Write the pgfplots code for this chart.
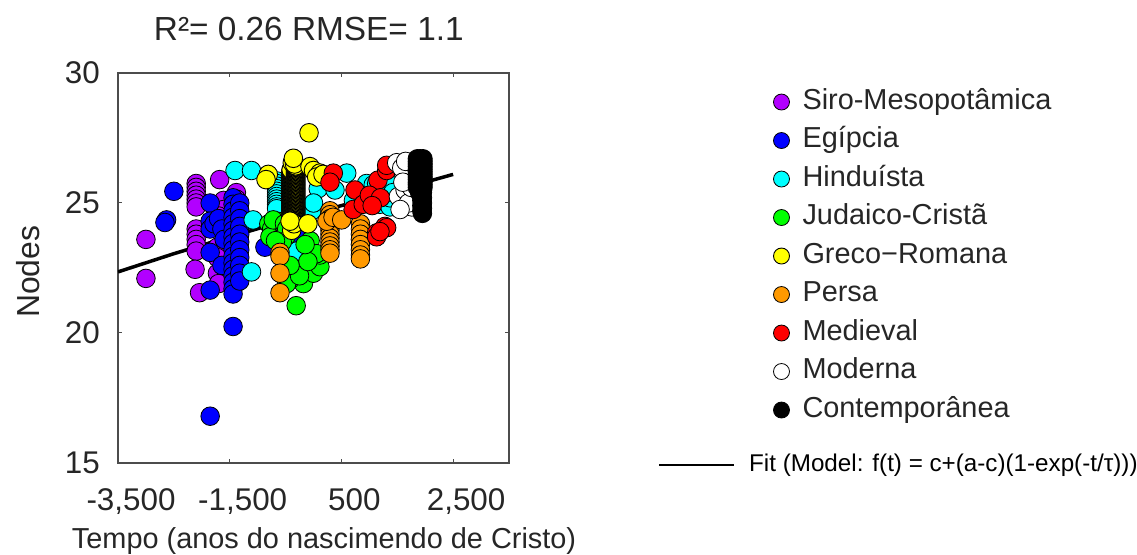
\documentclass[border=0pt]{standalone}
\usepackage{pgfplots}
\pgfplotsset{compat=1.18}
\usepackage{fontspec}
\setmainfont{Liberation Sans}
\definecolor{cpurple}{RGB}{178,0,255}
\definecolor{cblue}{RGB}{0,0,255}
\definecolor{ccyan}{RGB}{0,255,255}
\definecolor{cgreen}{RGB}{0,255,0}
\definecolor{cyellow}{RGB}{255,255,0}
\definecolor{corange}{RGB}{255,153,0}
\definecolor{cred}{RGB}{255,0,0}
\definecolor{txt}{RGB}{38,38,38}
\pgfplotsset{sc/.style={only marks, mark=*, mark size=9.3bp, mark options={draw=black, line width=0.8bp, fill=#1}}}
\begin{document}
\begin{tikzpicture}
\useasboundingbox (-118bp,-92bp) rectangle (1019bp,463bp);
\begin{axis}[
  at={(0,0)}, anchor=south west,
  scale only axis, width=391bp, height=390bp,
  xmin=-3500, xmax=3500, ymin=15, ymax=30,
  xtick={-3500,-1500,500,2500}, xticklabels={{-3,500},{-1,500},500,{2,500}},
  ytick={15,20,25,30}, yticklabels={15,20,25,30},
  tick align=inside, major tick length=4bp,
  axis line style={line width=1.2bp, black!70},
  tick style={line width=1bp, black!70},
  xticklabel style={anchor=base, yshift=-47bp, xshift=13bp, font=\fontsize{31.5}{31.5}\selectfont, text=txt, inner sep=0pt},
  yticklabel style={anchor=east, xshift=-18bp, font=\fontsize{31.5}{31.5}\selectfont, text=txt, inner sep=0pt},
  title={R²= 0.26 RMSE= 1.1},
  title style={at={(axis description cs:0.488,1.0987)}, anchor=center, font=\fontsize{33.5}{33.5}\selectfont, text=txt, inner sep=0pt},
  xlabel={Tempo (anos do nascimendo de Cristo)},
  xlabel style={at={(axis description cs:0.527,-0.1990)}, anchor=center, font=\fontsize{29}{29}\selectfont, text=txt, inner sep=0pt},
  ylabel={Nodes},
  ylabel style={at={(axis description cs:-0.230,0.49)}, anchor=center, font=\fontsize{32}{32}\selectfont, text=txt, inner sep=0pt},
  legend style={at={(axis description cs:1.6765,0.9640)}, anchor=north west, draw=none, fill=none, inner sep=0pt, outer sep=0pt,
    font=\fontsize{29}{29}\selectfont, text=txt, row sep=8.5bp, column sep=11bp,
    nodes={inner sep=2bp, text height=20bp, text depth=6bp}},
  legend cell align=left,
  legend image code/.code={\draw[#1, mark size=8bp] plot coordinates {(0bp,0bp)};},
]
\addplot[sc=cpurple] coordinates {
(-3000,23.6) (-3000,22.1)
(-2100,25.75) (-2100,25.6) (-2100,25.45) (-2100,25.3) (-2100,25.15) (-2100,25.0) (-2100,24.85)
(-2100,24.0) (-2100,23.8) (-2100,23.6) (-2100,23.4) (-2100,23.15) (-2120,22.45) (-2040,21.55)
(-1680,25.9) (-1610,25.1) (-1610,24.75) (-1700,24.5) (-1720,23.3) (-1720,22.9) (-1720,22.3) (-1700,21.9)
(-1380,25.4) (-1380,25.15)
};
\addlegendentry{Siro-Mesopotâmica}
\addplot[sc=cblue] coordinates {
(-2500,25.45) (-2630,24.35) (-2660,24.25)
(-1850,25.0) (-1850,24.3) (-1850,24.0) (-1850,23.1) (-1850,21.65) (-1850,16.8)
(-1780,24.2) (-1700,24.4) (-1640,24.0) (-1600,23.6) (-1640,22.6)
(-1440,25.2) (-1440,24.95) (-1440,24.7) (-1440,24.45) (-1440,24.2) (-1440,23.95) (-1440,23.7) (-1440,23.45)
(-1440,23.2) (-1440,22.95) (-1440,22.7) (-1440,22.45) (-1440,22.2) (-1440,21.95) (-1440,21.7) (-1440,21.5)
(-1440,20.25)
(-1320,25.0) (-1320,24.7) (-1320,24.4) (-1320,24.1) (-1320,23.8) (-1320,23.5) (-1320,23.2) (-1320,22.9)
(-1320,22.6) (-1320,22.3) (-1320,22.0)
(-870,23.3) (-330,22.45) (-150,23.05) (-210,23.75)
};
\addlegendentry{Egípcia}
\addplot[sc=ccyan] coordinates {
(-1405,26.25) (-1110,26.25) (-1080,24.35) (-1110,22.35)
(-660,25.85) (-660,25.75) (-660,25.65) (-660,25.55) (-660,25.45) (-660,25.35) (-660,25.25) (-660,25.15)
(-660,25.05) (-660,24.95) (-660,24.85) (-660,24.78)
(-300,23.15)
(-30,24.7) (85,25.55) (0,25.0) (385,25.5) (595,26.15) (715,25.1) (890,25.1) (950,25.75)
(1070,25.7) (1130,25.75) (1250,25.7) (1420,25.7) (1250,25.15) (1190,24.95) (1370,24.85) (1370,25.2) (1420,25.4)
};
\addlegendentry{Hinduísta}
\addplot[sc=cgreen] coordinates {
(-800,24.2) (-750,24.0) (-700,23.8) (-650,24.3) (-600,24.1) (-550,23.9) (-500,23.7) (-780,23.7)
(-720,24.35) (-620,23.6) (-520,24.2) (-480,24.0) (-560,23.5) (-680,23.55)
(-310,21.05) (-180,21.9) (0,22.3) (115,22.55) (115,23.0) (-420,22.05) (-60,23.55) (55,23.05)
(-480,21.9) (-250,22.2) (-100,22.75) (-420,22.6) (-150,23.4)
};
\addlegendentry{Judaico-Cristã}
\addplot[only marks, mark=*, mark size=9.3bp, mark options={draw=black, line width=0.9bp, fill=cyellow}] coordinates {
(-400,24.30) (-400,24.33) (-400,24.36) (-400,24.39) (-400,24.42) (-400,24.45) (-400,24.48) (-400,24.51)
(-400,24.54) (-400,24.57) (-400,24.60) (-400,24.63) (-400,24.66) (-400,24.69) (-400,24.72) (-400,24.75)
(-400,24.78) (-400,24.81) (-400,24.84) (-400,24.87) (-400,24.90) (-400,24.93) (-400,24.96) (-400,24.99)
(-400,25.02) (-400,25.05) (-400,25.08) (-400,25.11) (-400,25.14) (-400,25.17) (-400,25.20) (-400,25.23)
(-400,25.26) (-400,25.29) (-400,25.32) (-400,25.35) (-400,25.38) (-400,25.41) (-400,25.44) (-400,25.47)
(-400,25.50) (-400,25.53) (-400,25.56) (-400,25.59) (-400,25.62) (-400,25.65) (-400,25.68) (-400,25.71)
(-400,25.74) (-400,25.77) (-400,25.80) (-400,25.83) (-400,25.86) (-400,25.89) (-400,25.92) (-400,25.95)
(-400,25.98) (-400,26.01) (-400,26.04) (-400,26.07) (-400,26.10) (-400,26.13) (-400,26.16) (-400,26.19)
(-400,26.22) (-400,26.25) (-400,26.28)
(-320,24.45) (-320,24.48) (-320,24.51) (-320,24.54) (-320,24.57) (-320,24.60) (-320,24.63) (-320,24.66)
(-320,24.69) (-320,24.72) (-320,24.75) (-320,24.78) (-320,24.81) (-320,24.84) (-320,24.87) (-320,24.90)
(-320,24.93) (-320,24.96) (-320,24.99) (-320,25.02) (-320,25.05) (-320,25.08) (-320,25.11) (-320,25.14)
(-320,25.17) (-320,25.20) (-320,25.23) (-320,25.26) (-320,25.29) (-320,25.32) (-320,25.35) (-320,25.38)
(-320,25.41) (-320,25.44) (-320,25.47) (-320,25.50) (-320,25.53) (-320,25.56) (-320,25.59) (-320,25.62)
(-320,25.65) (-320,25.68) (-320,25.71) (-320,25.74) (-320,25.77) (-320,25.80) (-320,25.83) (-320,25.86)
(-320,25.89) (-320,25.92) (-320,25.95) (-320,25.98) (-320,26.01) (-320,26.04) (-320,26.07) (-320,26.10)
(-320,26.13) (-320,26.16) (-320,26.19) (-320,26.22) (-320,26.25) (-320,26.28) (-320,26.31) (-320,26.34)
(-320,26.37) (-320,26.40) (-320,26.43)
(-380,26.55) (-340,26.5) (-360,26.72)
(-390,23.95) (-350,24.2) (-420,24.3) (-100,24.2)
(-80,27.7)
(-810,26.1) (-850,25.9) (-63,26.4) (0,26.25) (115,26.15) (57,26.0) (170,26.1)
};
\addlegendentry{Greco−Romana}
\addplot[sc=corange] coordinates {
(-600,23.1) (-600,22.95) (-600,22.3) (-600,21.55)
(295,24.7) (295,24.55) (295,24.4) (295,24.25) (295,24.1) (295,23.95) (295,23.8) (295,23.65)
(295,23.5) (295,23.35) (295,23.2) (295,23.07) (240,24.3) (350,24.45)
(505,24.35)
(840,24.2) (840,24.0) (840,23.8) (840,23.6) (840,23.4) (840,23.2) (840,23.0) (840,22.85)
};
\addlegendentry{Persa}
\addplot[sc=cred] coordinates {
(355,26.15) (295,25.8) (743,25.5) (710,24.75) (890,24.95) (1155,25.88) (1310,26.25) (1310,26.45)
(1280,24.1) (1310,24.05) (1130,23.85) (1130,23.7) (1190,23.9) (1000,25.3) (1200,25.2) (1050,24.9)
};
\addlegendentry{Medieval}
\addplot[sc=white] coordinates {
(1490,26.55) (1760,26.55) (1610,26.15) (1820,25.75) (1760,24.85) (1520,25.25) (1700,25.9) (1640,25.5)
(1580,26.35) (1880,26.1) (1880,25.3) (1700,25.0) (1820,26.45) (1550,24.75) (1650,26.6) (1750,25.6) (1600,25.8)
};
\addlegendentry{Moderna}
\addplot[sc=black] coordinates {
(1860,26.7) (1910,26.7) (1960,26.7) (1860,26.6) (1910,26.6) (1960,26.6) (1860,26.5) (1910,26.5) (1960,26.5)
(1860,26.4) (1910,26.4) (1960,26.4) (1860,26.3) (1910,26.3) (1960,26.3) (1860,26.2) (1910,26.2) (1960,26.2)
(1860,26.1) (1910,26.1) (1960,26.1) (1860,26.0) (1910,26.0) (1960,26.0) (1860,25.9) (1910,25.9) (1960,25.9)
(1860,25.8) (1910,25.8) (1960,25.8) (1860,25.7) (1910,25.7) (1960,25.7) (1860,25.6) (1910,25.6) (1960,25.6)
(1900,25.5) (1950,25.5) (1900,25.4) (1950,25.4) (1930,25.3) (1950,25.2) (1940,25.1) (1950,25.0)
(1940,24.9) (1950,24.8) (1940,24.7) (1950,24.6)
};
\addlegendentry{Contemporânea}
\addplot[black, line width=3.5bp, forget plot] coordinates {
(-3500,22.35) (-2500,23.05) (-1500,23.7) (-500,24.32) (500,24.9) (1500,25.5) (2500,26.1)
};
\end{axis}
\begin{axis}[
  at={(0,0)}, anchor=south west,
  scale only axis, width=391bp, height=390bp, hide axis,
  xmin=0, xmax=1, ymin=0, ymax=1,
  legend style={at={(axis description cs:1.381,0.0282)}, anchor=north west, draw=none, fill=none, inner sep=0pt, outer sep=0pt,
    font=\fontsize{24.3}{24.3}\selectfont, text=black, column sep=12bp,
    nodes={inner sep=2bp, text height=17bp, text depth=5bp}},
  legend image code/.code={\draw[#1] (0bp,0bp) -- (75bp,0bp);},
]
\addlegendimage{black, line width=2.2bp}
\addlegendentry{Fit (Model: f(t) = c+(a-c)(1-exp(-t/τ)))}
\end{axis}
\end{tikzpicture}
\end{document}
